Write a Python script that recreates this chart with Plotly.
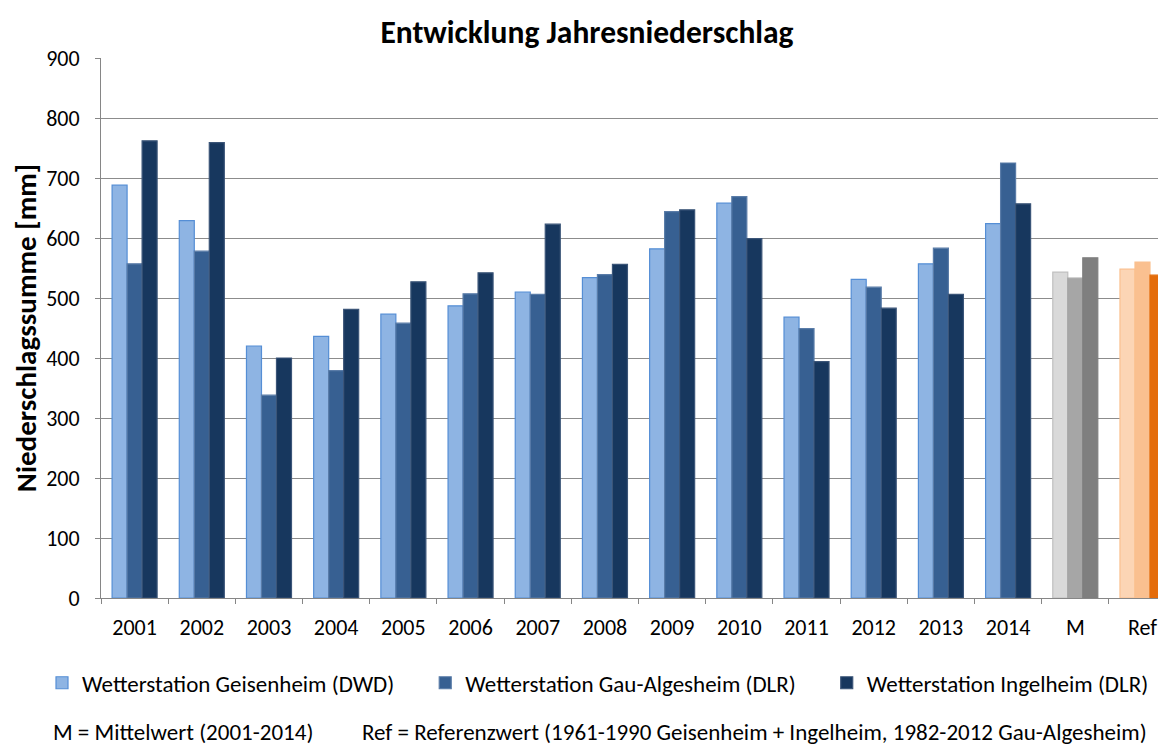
import plotly.graph_objects as go

categories = ["2001", "2002", "2003", "2004", "2005", "2006", "2007", "2008",
              "2009", "2010", "2011", "2012", "2013", "2014", "M", "Ref"]

geisenheim = [688, 629, 420, 436, 473, 487, 510, 534, 582, 658, 468, 531, 557, 624, 543, 548]
gau_algesheim = [557, 578, 338, 379, 458, 507, 506, 539, 644, 669, 449, 518, 583, 725, 533, 560]
ingelheim = [762, 759, 400, 481, 527, 542, 623, 556, 647, 599, 394, 483, 506, 657, 567, 538]

series_names = ["Wetterstation Geisenheim (DWD)",
                "Wetterstation Gau-Algesheim (DLR)",
                "Wetterstation Ingelheim (DLR)"]
# extra no-break spaces after each legend label, to widen the gaps like the original
legend_pad = [5, 5, 0]

# colours per series: years in blue, mean in grey, reference in orange
_FILL = [
    ("#8EB4E3", "#D9D9D9", "#FCD5B5"),
    ("#376092", "#A6A6A6", "#FAC090"),
    ("#17375E", "#7F7F7F", "#E46C0A"),
]
_LINE = [
    ("#558ED5", "#BFBFBF", "#FAC090"),
    ("#5A7CA8", "#A6A6A6", "#FAC090"),
    ("#3B5578", "#7F7F7F", "#E46C0A"),
]

FONT = "Carlito, Calibri, Lato, sans-serif"

# page body adds an 8px offset, so the figure is drawn slightly smaller
W, H = 1158, 737


def colours(palette, i):
    year, mean, ref = palette[i]
    return [year] * 14 + [mean, ref]


fig = go.Figure()
for i, (name, vals) in enumerate(zip(series_names, [geisenheim, gau_algesheim, ingelheim])):
    fig.add_trace(go.Bar(
        x=categories,
        y=vals,
        name=name + "\u00a0" * legend_pad[i],
        marker=dict(color=colours(_FILL, i),
                    line=dict(color=colours(_LINE, i), width=1.2)),
    ))

fig.update_layout(
    width=W,
    height=H,
    barmode="group",
    bargap=0.33,
    bargroupgap=0,
    plot_bgcolor="white",
    paper_bgcolor="white",
    font=dict(family=FONT, size=23, color="#000000"),
    title=dict(text="<b>Entwicklung Jahresniederschlag</b>",
               x=0.5, xanchor="center", y=1 - 24 / H, yanchor="middle",
               font=dict(size=31.5)),
    margin=dict(t=50, b=147, l=93, r=0, autoexpand=False),
    xaxis=dict(
        range=[-0.5, 15.35],
        showline=True, linecolor="#868686", linewidth=1,
        ticks="outside", ticklen=5, tickcolor="#868686",
        tickson="boundaries",
        tickfont=dict(size=22),
        ticklabelstandoff=10,
        showgrid=False,
        automargin=False,
    ),
    yaxis=dict(
        range=[0, 900], dtick=100,
        showline=True, linecolor="#868686", linewidth=1,
        ticks="outside", ticklen=5, tickcolor="#868686",
        tickfont=dict(size=22),
        ticksuffix="\u2002",
        gridcolor="#8C8C8C", gridwidth=1.3,
        zeroline=False,
        automargin=False,
        title=dict(text="<b>Niederschlagssumme [mm]</b>", font=dict(size=29), standoff=2),
    ),
    legend=dict(
        orientation="h",
        x=(34 - 93) / 1065, xanchor="left",
        y=-0.157, yanchor="middle",
        font=dict(size=23),
        itemclick=False,
    ),
)

fig.add_annotation(
    text="M = Mittelwert (2001-2014)",
    xref="paper", yref="paper", x=-0.047, y=-0.248,
    xanchor="left", yanchor="middle", showarrow=False,
    font=dict(size=23),
)
fig.add_annotation(
    text="Ref = Referenzwert (1961-1990 Geisenheim + Ingelheim, 1982-2012 Gau-Algesheim)",
    xref="paper", yref="paper", x=0.243, y=-0.248,
    xanchor="left", yanchor="middle", showarrow=False,
    font=dict(size=23),
)

fig.write_html("out.html")
